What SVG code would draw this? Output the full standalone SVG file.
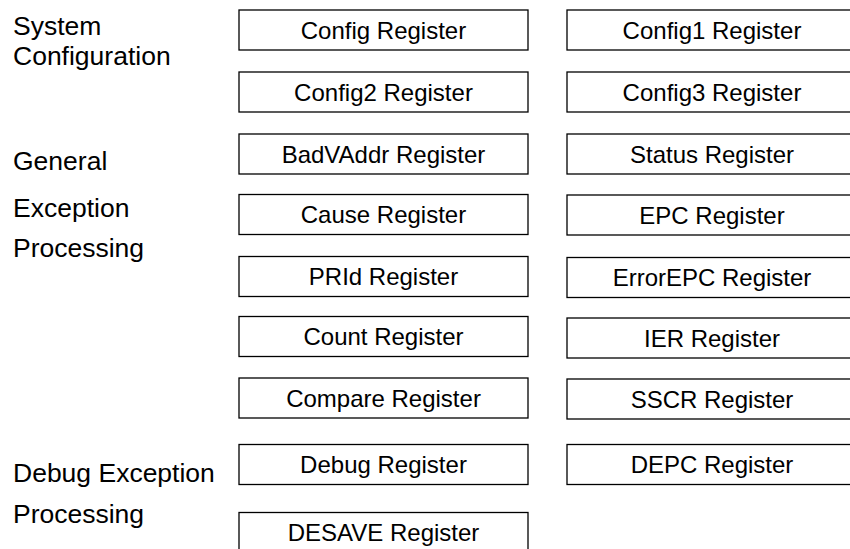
<svg xmlns="http://www.w3.org/2000/svg" width="850" height="549" viewBox="0 0 850 549">
  <style>
    .box { fill: #ffffff; stroke: #000000; stroke-width: 1.3; }
    .reg { font-family: "Liberation Sans", Arial, sans-serif; font-size: 24px; fill: #000000; text-anchor: middle; }
    .grp { font-family: "Liberation Sans", Arial, sans-serif; font-size: 26.5px; fill: #000000; }
  </style>
  <rect width="850" height="549" fill="#ffffff"/>

  <!-- group captions -->
  <g id="captions">
    <text class="grp" x="13" y="34.5">System</text>
    <text class="grp" x="13" y="64.5">Configuration</text>
    <text class="grp" x="13" y="170">General</text>
    <text class="grp" x="13" y="216.5">Exception</text>
    <text class="grp" x="13" y="257">Processing</text>
    <text class="grp" x="13" y="482">Debug Exception</text>
    <text class="grp" x="13" y="523">Processing</text>
  </g>

  <!-- left column of registers -->
  <g id="config"><rect class="box" x="239" y="10" width="289" height="40"/><text class="reg" x="383.5" y="38.6">Config Register</text></g>
  <g id="config2"><rect class="box" x="239" y="72" width="289" height="40"/><text class="reg" x="383.5" y="100.6">Config2 Register</text></g>
  <g id="badvaddr"><rect class="box" x="239" y="134" width="289" height="40"/><text class="reg" x="383.5" y="162.6">BadVAddr Register</text></g>
  <g id="cause"><rect class="box" x="239" y="194.5" width="289" height="40"/><text class="reg" x="383.5" y="223.1">Cause Register</text></g>
  <g id="prid"><rect class="box" x="239" y="256.5" width="289" height="40"/><text class="reg" x="383.5" y="285.1">PRId Register</text></g>
  <g id="count"><rect class="box" x="239" y="316.5" width="289" height="40"/><text class="reg" x="383.5" y="345.1">Count Register</text></g>
  <g id="compare"><rect class="box" x="239" y="378" width="289" height="40"/><text class="reg" x="383.5" y="406.6">Compare Register</text></g>
  <g id="debug"><rect class="box" x="239" y="444.5" width="289" height="40"/><text class="reg" x="383.5" y="473.1">Debug Register</text></g>
  <g id="desave"><rect class="box" x="239" y="512.5" width="289" height="40"/><text class="reg" x="383.5" y="541.1">DESAVE Register</text></g>

  <!-- right column of registers (runs past the right edge) -->
  <g id="config1"><rect class="box" x="567" y="10" width="290" height="40"/><text class="reg" x="712" y="38.6">Config1 Register</text></g>
  <g id="config3"><rect class="box" x="567" y="72" width="290" height="40"/><text class="reg" x="712" y="100.6">Config3 Register</text></g>
  <g id="status"><rect class="box" x="567" y="134" width="290" height="40"/><text class="reg" x="712" y="162.6">Status Register</text></g>
  <g id="epc"><rect class="box" x="567" y="195" width="290" height="40"/><text class="reg" x="712" y="223.6">EPC Register</text></g>
  <g id="errorepc"><rect class="box" x="567" y="257.5" width="290" height="40"/><text class="reg" x="712" y="286.1">ErrorEPC Register</text></g>
  <g id="ier"><rect class="box" x="567" y="318" width="290" height="40"/><text class="reg" x="712" y="346.6">IER Register</text></g>
  <g id="sscr"><rect class="box" x="567" y="379" width="290" height="40"/><text class="reg" x="712" y="407.6">SSCR Register</text></g>
  <g id="depc"><rect class="box" x="567" y="444.5" width="290" height="40"/><text class="reg" x="712" y="473.1">DEPC Register</text></g>
</svg>
